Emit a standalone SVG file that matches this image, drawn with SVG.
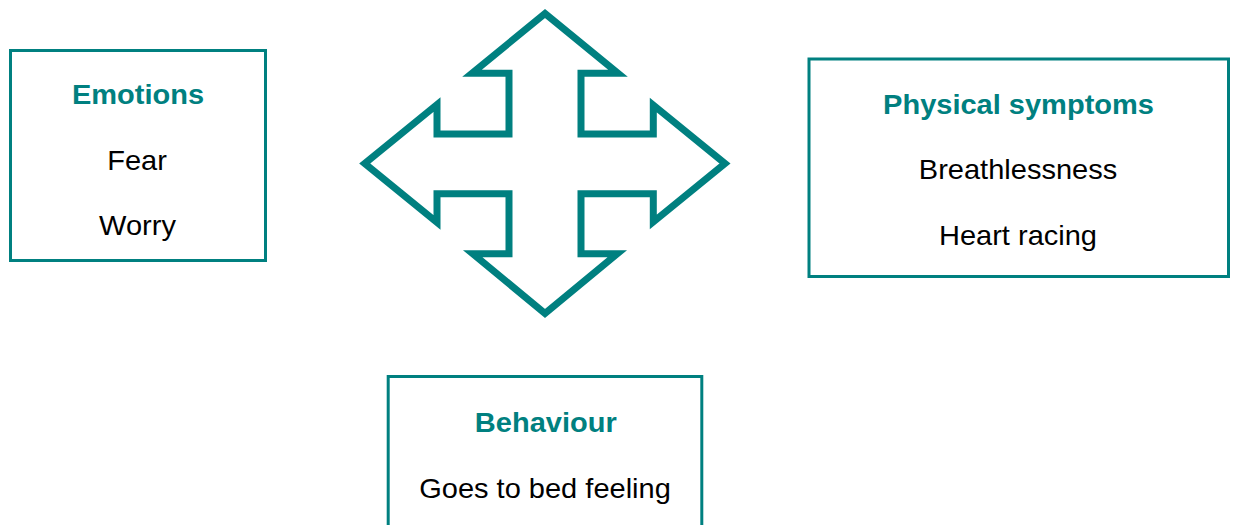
<svg xmlns="http://www.w3.org/2000/svg" width="1235" height="525" viewBox="0 0 1235 525">
<style>
.box{fill:#fff;stroke:#008080;stroke-width:3}
.arrow{fill:#fff;stroke:#008080;stroke-width:7;stroke-linejoin:miter;stroke-miterlimit:10}
.h{font-family:"Liberation Sans",Arial,sans-serif;font-weight:bold;font-size:27px;fill:#008080;text-anchor:middle}
.t{font-family:"Liberation Sans",Arial,sans-serif;font-size:27px;fill:#000;text-anchor:middle}
</style>
<rect width="1235" height="525" fill="#fff"/>
<g id="connectors">
<polygon class="arrow" points="545,13.5 618,73.3 581,73.3 581,134 653.3,134 653.3,105 725,163.5 653.3,222 653.3,193.7 581,193.7 581,253.7 617.3,253.7 545,313.5 472.7,253.7 509,253.7 509,193.7 437,193.7 437,222.5 364.7,163.5 437,104.5 437,134 509,134 509,73.3 472,73.3"/>
</g>
<g id="emotions">
<rect class="box" x="10.5" y="50.5" width="255" height="210"/>
<text class="h" transform="translate(138,104.3) scale(1.075,1)">Emotions</text>
<text class="t" transform="translate(137,170) scale(1.075,1)">Fear</text>
<text class="t" transform="translate(137.5,235) scale(1.075,1)">Worry</text>
</g>
<g id="physical">
<rect class="box" x="809" y="59" width="419.5" height="217.5"/>
<text class="h" transform="translate(1018.5,114.3) scale(1.075,1)">Physical symptoms</text>
<text class="t" transform="translate(1018,179.3) scale(1.075,1)">Breathlessness</text>
<text class="t" transform="translate(1018,245) scale(1.075,1)">Heart racing</text>
</g>
<g id="behaviour">
<rect class="box" x="388.2" y="376.5" width="313.6" height="160"/>
<text class="h" transform="translate(545.8,431.7) scale(1.075,1)">Behaviour</text>
<text class="t" transform="translate(545,498.3) scale(1.075,1)">Goes to bed feeling</text>
</g>
</svg>
